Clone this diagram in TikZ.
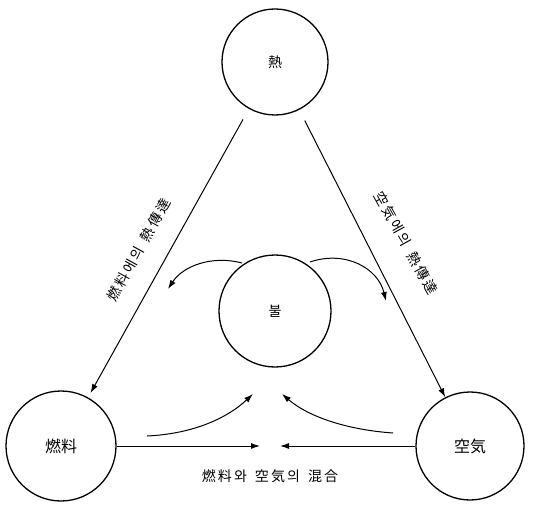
\documentclass[tikz,border=0pt]{standalone}
\usepackage{fontspec}
\setmainfont{Noto Sans CJK KR}
\newfontfamily\spacedcjk[LetterSpace=15]{Noto Sans CJK KR}
\usetikzlibrary{arrows.meta}
\begin{document}
\begin{tikzpicture}[x=1pt,y=-1pt,
  circ/.style={draw, circle, line width=1.3pt, inner sep=0pt},
  conn/.style={line width=1pt, -{Latex[length=9pt,width=6pt]}},
  lbl/.style={font=\spacedcjk\fontsize{14}{14}\selectfont, inner sep=0pt}]
\useasboundingbox (0,0) rectangle (538,505);
\node[circ, minimum size=106pt, font=\fontsize{14}{14}\selectfont] (heat) at (275,62) {熱};
\node[circ, minimum size=112pt, font=\fontsize{14}{14}\selectfont] (fire) at (275,311) {불};
\node[circ, minimum size=110pt, font=\fontsize{16}{16}\selectfont] (fuel) at (61,446) {燃料};
\node[circ, minimum size=108pt, font=\fontsize{16}{16}\selectfont] (air) at (470,446) {空気};
% diagonals
\draw[conn, shorten <=12pt, shorten >=5pt] (heat) -- (fuel);
\draw[conn, shorten <=12pt] (heat) -- (air);
\node[lbl, rotate=61] (lblL) at (139,250) {燃料에의\hspace{8pt}熱傳達};
\node[lbl, rotate=-61] (lblR) at (406,243) {空気에의\hspace{8pt}熱傳達};
% arcs from fire
\coordinate (a1) at (242,263);
\coordinate (a2) at (168,289);
\coordinate (b1) at (310,262);
\coordinate (b2) at (386,301);
\draw[conn] (a1) .. controls (212,255) and (183,266) .. (a2);
\draw[conn] (b1) .. controls (345,250) and (378,268) .. (b2);
% mixing arrows
\coordinate (m1) at (260,446);
\coordinate (m2) at (280,446);
\draw[conn] (fuel) -- (m1);
\draw[conn] (air) -- (m2);
\coordinate (c1) at (147,436);
\coordinate (c2) at (253,394);
\coordinate (d1) at (393,433);
\coordinate (d2) at (282,394);
\draw[conn] (c1) .. controls (190,434) and (225,420) .. (c2);
\draw[conn] (d1) .. controls (350,430) and (310,418) .. (d2);
\node[lbl] (lblB) at (270,476) {燃料와\hspace{8pt}空気의\hspace{8pt}混合};
\end{tikzpicture}
\end{document}
